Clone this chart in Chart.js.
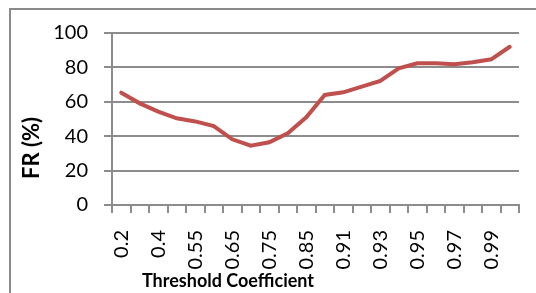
<!DOCTYPE html>
<html>
<head>
<meta charset="utf-8">
<script src="https://cdn.jsdelivr.net/npm/chart.js@4"></script>
<style>
  body { margin: 0; background: #fff; overflow: hidden; }
  #wrap { position: relative; width: 536px; height: 293px; }
  #frame { position: absolute; left: 9px; top: 8px; width: 600px; height: 400px; border: 2px solid #8a8a8a; pointer-events: none; }
</style>
</head>
<body>
<div id="wrap">
  <canvas id="frChart" width="536" height="293"></canvas>
  <div id="frame"></div>
</div>
<script>
// FR (%) against threshold coefficient

const thresholds = ['0.2','0.3','0.4','0.5','0.55','0.6','0.65','0.7','0.75','0.8','0.85',
                    '0.9','0.91','0.92','0.93','0.94','0.95','0.96','0.97','0.98','0.99','1'];
const frValues = [65.3, 59.1, 54.3, 50.4, 48.6, 45.9, 38.2, 34.5, 36.5, 41.7, 51,
                  64, 65.5, 68.8, 72.1, 79.5, 82.4, 82.4, 81.8, 83, 84.7, 92];
const yTicks = [0, 20, 40, 60, 80, 100];
const xTitle = 'Threshold Coefficient';
const yTitle = 'FR (%)';

const gridGray = '#8c8c8c';

// axis titles sit off-centre in the original, so draw them by hand
const axisTitles = {
  id: 'axisTitles',
  afterDraw(chart) {
    const ctx = chart.ctx;
    ctx.save();
    ctx.fillStyle = '#000';
    ctx.textAlign = 'center';
    ctx.textBaseline = 'middle';
    ctx.font = 'bold 18px Lato';
    ctx.fillText(xTitle, 228, 281);
    ctx.translate(32, 148);
    ctx.rotate(-Math.PI / 2);
    ctx.font = 'bold 22px Lato';
    ctx.fillText(yTitle, 0, 0);
    ctx.restore();
  }
};

const ctx = document.getElementById('frChart').getContext('2d');
new Chart(ctx, {
  type: 'line',
  data: {
    labels: thresholds,
    datasets: [{
      label: yTitle,
      data: frValues,
      borderColor: '#C0504D',
      borderWidth: 4,
      borderCapStyle: 'round',
      pointRadius: 0,
      tension: 0,
      fill: false,
    }]
  },
  options: {
    responsive: false, animation: false,
    layout: { padding: { left: 0, top: 33, right: 17, bottom: 0 } },
    plugins: { legend: { display: false }, tooltip: { enabled: false } },
    scales: {
      x: {
        offset: true,
        afterFit: s => { s.height = 88; s.paddingLeft = 0; s.paddingRight = 0; },
        grid: { offset: true, drawOnChartArea: false, color: gridGray, lineWidth: 2, tickLength: 8 },
        border: { color: gridGray, width: 2 },
        ticks: {
          autoSkip: false, minRotation: 90, maxRotation: 90, padding: 17,
          color: '#000', font: { family: 'Lato', size: 20 },
          callback: (v, i) => i % 2 ? '' : thresholds[i]
        }
      },
      y: {
        min: 0, max: 100,
        afterFit: s => { s.width = 112; s.paddingTop = 0; s.paddingBottom = 0; },
        afterBuildTicks: s => { s.ticks = yTicks.map(v => ({ value: v })); },
        grid: { color: gridGray, lineWidth: 2, tickLength: 8 },
        border: { color: gridGray, width: 2 },
        ticks: { padding: 16, color: '#000', font: { family: 'Lato', size: 20 } }
      }
    }
  },
  plugins: [axisTitles]
});
</script>
</body>
</html>
